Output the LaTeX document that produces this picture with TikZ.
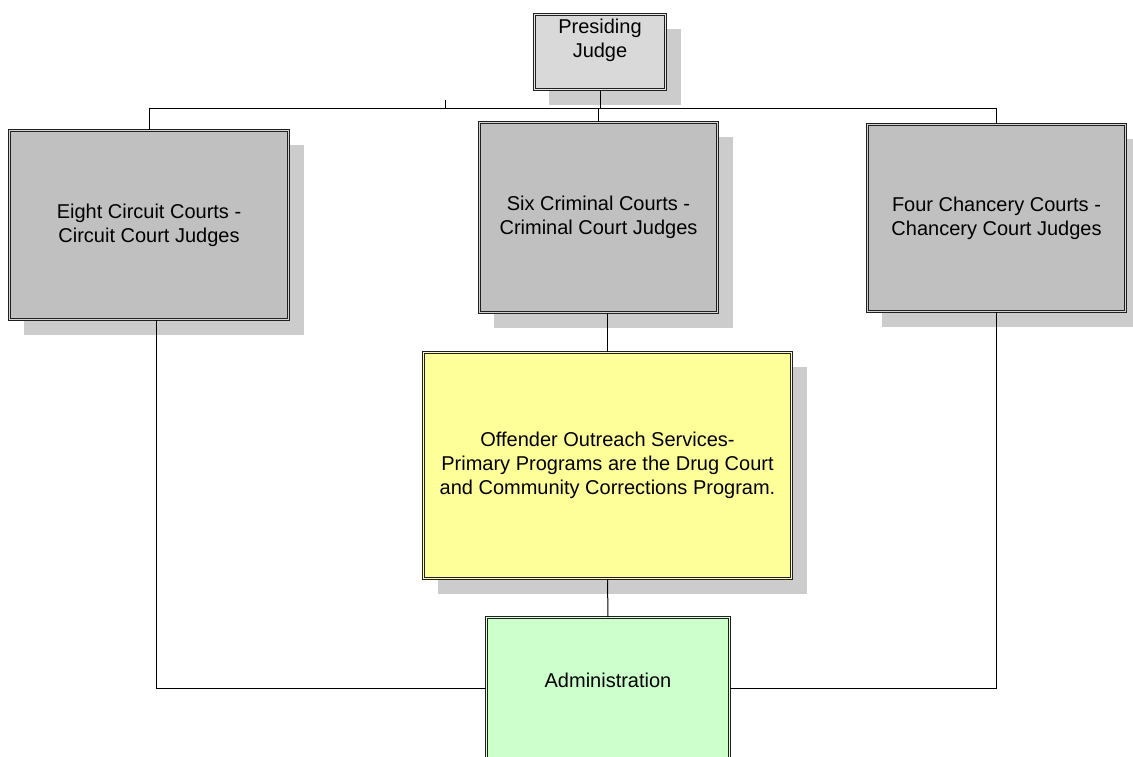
\documentclass[tikz,border=0pt]{standalone}
\usepackage{fontspec}
\setmainfont{Liberation Sans}
\usetikzlibrary{shadows}
\definecolor{boxgray}{HTML}{C0C0C0}
\definecolor{topgray}{HTML}{D9D9D9}
\definecolor{shadowgray}{HTML}{CCCCCC}
\definecolor{boxyellow}{HTML}{FFFF99}
\definecolor{boxgreen}{HTML}{CCFFCC}
\definecolor{edge}{HTML}{202020}
\tikzset{
  frame line/.style={draw=edge, line width=0.75pt, double distance=1.2pt},
  unit box/.style={frame line, inner sep=0pt,
    align=center, font=\fontsize{15pt}{18pt}\selectfont,
    drop shadow={shadow xshift=11.25pt, shadow yshift=-11.25pt, fill=shadowgray, opacity=1}},
  graybox/.style={unit box, fill=boxgray, double=boxgray!70!white},
  topbox/.style={unit box, fill=topgray, double=topgray!70!white},
  yellowbox/.style={unit box, fill=boxyellow, double=boxyellow!70!white},
  greenbox/.style={frame line, double=boxgreen!70!white, fill=boxgreen, inner sep=0pt},
  label text/.style={align=center, font=\fontsize{15pt}{18pt}\selectfont, inner sep=0pt},
  link/.style={draw=black, line width=0.75pt}
}
\begin{document}
\begin{tikzpicture}[x=0.75pt,y=-0.75pt]
\useasboundingbox (0,0) rectangle (1133,757);
\clip (0,0) rectangle (1133,757);
% boxes
\node[topbox, minimum width=98.5pt, minimum height=56.5pt] (pj) at (600,52) {};
\node[label text] (pjt) at (600,40) {Presiding\\Judge};
\node[graybox, minimum width=209.5pt, minimum height=142pt] (circ) at (149,225)
  {Eight Circuit Courts -\\Circuit Court Judges};
\node[graybox, minimum width=178.75pt, minimum height=142.75pt] (crim) at (598.5,217.5)
  {Six Criminal Courts -\\Criminal Court Judges};
\node[graybox, minimum width=193.75pt, minimum height=140.5pt] (chan) at (996.5,218)
  {Four Chancery Courts -\\Chancery Court Judges};
\node[yellowbox, minimum width=276.25pt, minimum height=169.75pt] (yel) at (607.5,465.5)
  {Offender Outreach Services-\\Primary Programs are the Drug Court\\and Community Corrections Program.};
\node[greenbox, minimum width=182.5pt, minimum height=140pt] (adm) at (608,711) {};
\node[label text] (admt) at (608,680) {Administration};
% connectors
\coordinate (bus) at (600,108);
\coordinate (tick) at (445,100);
\coordinate (arow) at (0,688);
\draw[link] (pj.south) -- (bus);
\draw[link] (circ.north |- bus) -- (chan.north |- bus);
\draw[link] (tick) -- (tick |- bus);
\draw[link] (circ.north |- bus) -- (circ.north);
\draw[link] (crim.north |- bus) -- (crim.north);
\draw[link] (chan.north |- bus) -- (chan.north);
\draw[link] (yel.north |- crim.south) -- (yel.north);
\draw[link] (yel.south) -- (adm.north);
\draw[link] ([xshift=5.25pt]circ.south) |- (adm.west |- arow);
\draw[link] (adm.east |- arow) -| (chan.south);
\end{tikzpicture}
\end{document}
